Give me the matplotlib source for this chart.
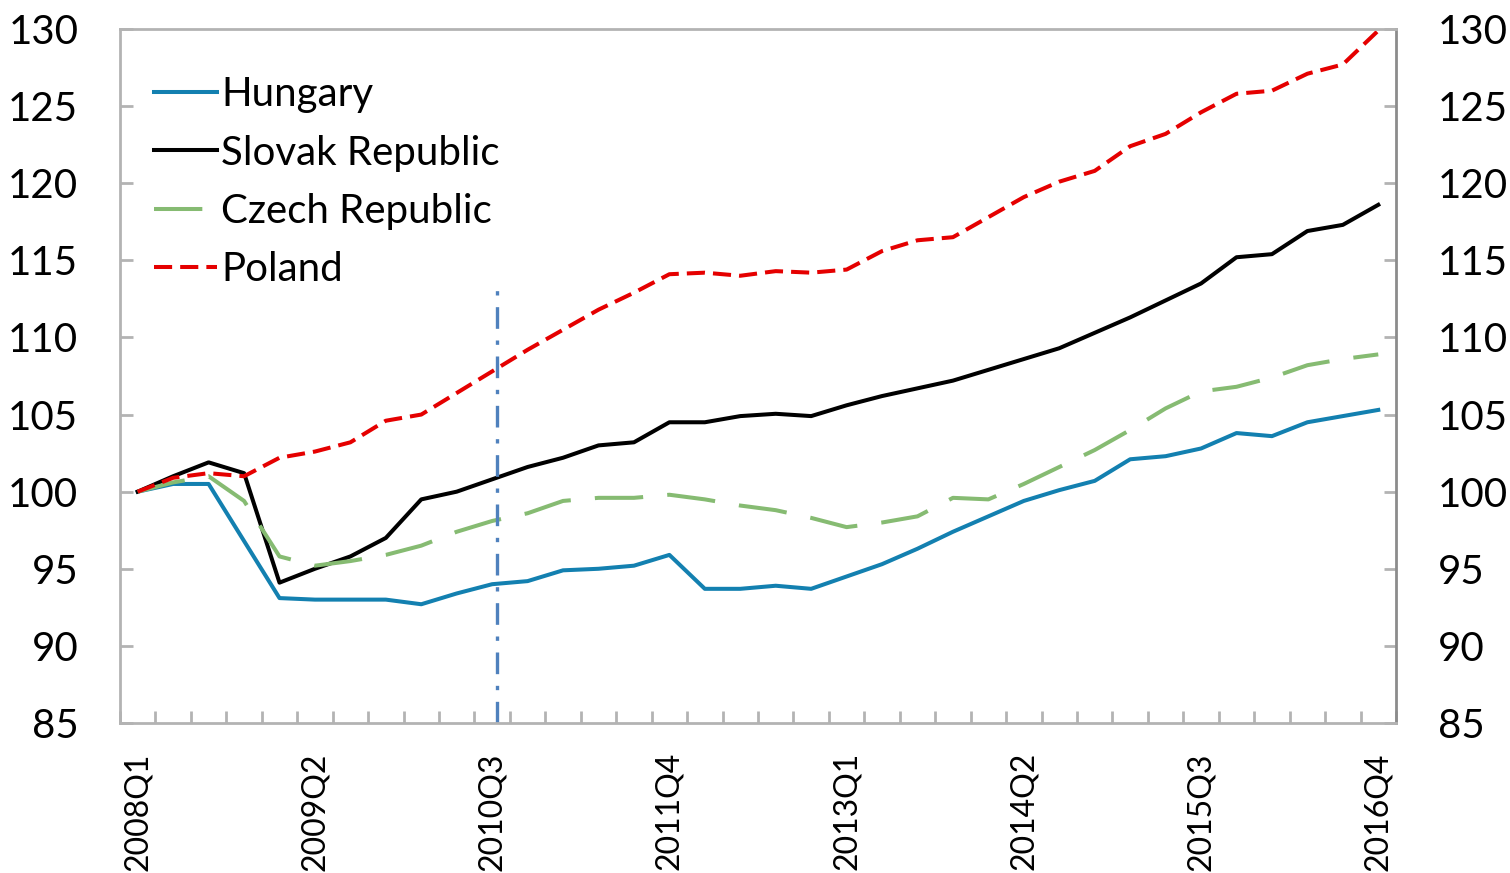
import matplotlib
matplotlib.use("Agg")
import matplotlib.pyplot as plt
import numpy as np

plt.rcParams["font.family"] = ["Lato", "DejaVu Sans"]

# quarters 2008Q1 .. 2016Q4
quarters = [f"{y}Q{q}" for y in range(2008, 2017) for q in range(1, 5)]
label_every = 5
marker_quarter = "2010Q3"

hungary = [100, 100.5, 100.5, 96.8, 93.1, 93.0, 93.0, 93.0, 92.7, 93.4,
           94.0, 94.2, 94.9, 95.0, 95.2, 95.9, 93.7, 93.7, 93.9, 93.7,
           94.5, 95.3, 96.3, 97.4, 98.4, 99.4, 100.1, 100.7, 102.1, 102.3,
           102.8, 103.8, 103.6, 104.5, 104.9, 105.3]
slovakia = [100, 101.0, 101.9, 101.2, 94.1, 95.0, 95.8, 97.0, 99.5, 100.0,
            100.8, 101.6, 102.2, 103.0, 103.2, 104.5, 104.5, 104.9, 105.05, 104.9,
            105.6, 106.2, 106.7, 107.2, 107.9, 108.6, 109.3, 110.3, 111.3, 112.4,
            113.5, 115.2, 115.4, 116.9, 117.3, 118.6]
czech = [100, 100.6, 101.0, 99.4, 95.8, 95.2, 95.5, 95.9, 96.5, 97.4,
         98.1, 98.6, 99.4, 99.6, 99.6, 99.8, 99.5, 99.1, 98.8, 98.3,
         97.7, 98.0, 98.4, 99.6, 99.5, 100.5, 101.6, 102.7, 104.0, 105.4,
         106.5, 106.8, 107.4, 108.2, 108.6, 108.9]
poland = [100, 100.9, 101.2, 101.0, 102.2, 102.6, 103.2, 104.6, 105.0, 106.4,
          107.8, 109.2, 110.5, 111.8, 112.9, 114.1, 114.2, 114.0, 114.3, 114.2,
          114.4, 115.6, 116.3, 116.5, 117.8, 119.1, 120.1, 120.8, 122.4, 123.2,
          124.6, 125.8, 126.0, 127.1, 127.7, 129.9]

y_min, y_max, y_step = 85, 130, 5

x = np.arange(len(quarters))

fig = plt.figure(figsize=(15.1, 8.73), dpi=100)
ax = fig.add_axes([120 / 1510, 1 - 723 / 873, 1276 / 1510, (723 - 29) / 873])

ax.plot(x, hungary, color="#1380B0", lw=2.9, label="Hungary")
ax.plot(x, slovakia, color="black", lw=2.9, label="Slovak Republic")
ax.plot(x, czech, color="#86BB72", lw=2.9, linestyle=(0, (12, 6)), label="Czech Republic")
ax.plot(x, poland, color="#E50000", lw=2.9, linestyle=(0, (4.5, 2)), label="Poland")

# vertical marker line
xm = quarters.index(marker_quarter) + 0.15
ax.plot([xm, xm], [y_min, 113.5], color="#4F81BD", lw=2.4,
        linestyle=(0, (6.5, 3.5, 1.3, 3.5)))

ax.set_xlim(-0.5, len(quarters) - 0.5)
ax.set_ylim(y_min, y_max)

# labels every 5 quarters, ticks between categories
ax.set_xticks(x[::label_every])
ax.set_xticklabels(quarters[::label_every], rotation=90, fontsize=23, va="top", ha="center")
ax.set_xticks(np.arange(-0.5, len(quarters) + 0.5, 1), minor=True)
ax.tick_params(axis="x", which="major", length=0, pad=21)
ax.tick_params(axis="x", which="minor", direction="in", length=9, width=2, color="#B3B3B3")

ax.set_yticks(np.arange(y_min, y_max + 1, y_step))
ax.tick_params(axis="y", direction="in", length=9, width=2, color="#B3B3B3",
               labelsize=29, left=True, right=True, labelleft=True, labelright=True, pad=30)
for t in ax.yaxis.get_major_ticks():
    t.tick2line.set_color("#8C8C8C")

for side in ["left", "top", "bottom"]:
    ax.spines[side].set_color("#B3B3B3")
    ax.spines[side].set_linewidth(2)
ax.spines["right"].set_color("#8C8C8C")
ax.spines["right"].set_linewidth(2)

ax.legend(loc="upper left", bbox_to_anchor=(0.027, 0.932), frameon=False,
          fontsize=29, handlelength=1.55, handletextpad=0.1, labelspacing=0.53,
          borderaxespad=0, borderpad=0)

fig.savefig("out.png", dpi=100)
